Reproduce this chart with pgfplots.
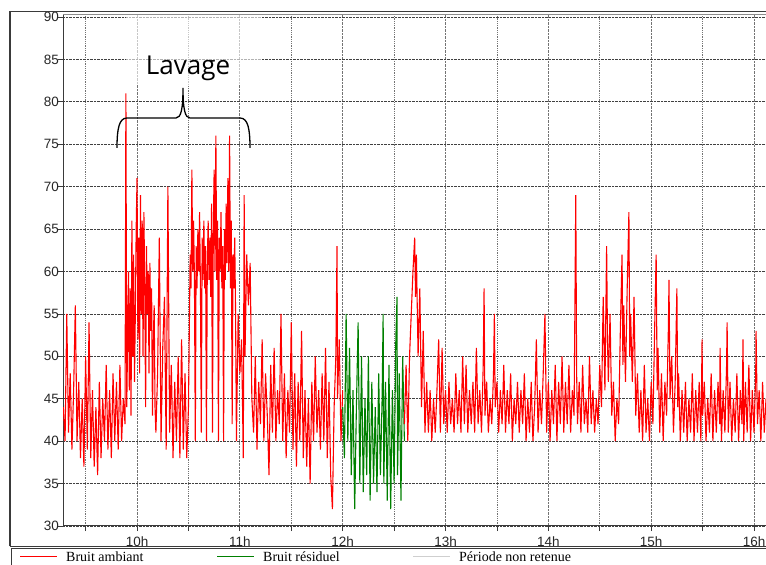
\documentclass[border=0pt]{standalone}
\usepackage{fontspec}
\setmainfont{Liberation Sans}
\newfontfamily\timesf{Liberation Serif}
\newfontfamily\lavf{Open Sans}
\usepackage{pgfplots}
\pgfplotsset{compat=1.18}
\definecolor{frame}{HTML}{3A3A3A}
\definecolor{ambiant}{HTML}{FF0000}
\definecolor{residuel}{HTML}{008000}
\definecolor{nonret}{HTML}{CFCFCF}
\begin{document}
\begin{tikzpicture}
\useasboundingbox (0,0) rectangle (766pt,565pt);
\begin{axis}[
  at={(63pt,39pt)}, anchor=south west, scale only axis,
  width=709pt, height=512pt,
  xmin=16.8, xmax=430.5, ymin=30, ymax=90.35,
  axis x line*=bottom, axis y line*=left,
  axis line style={frame, line width=1pt},
  xtick={60,120,180,240,300,360,420},
  xticklabels={10h,11h,12h,13h,14h,15h,16h},
  minor xtick={30,90,150,210,270,330,390},
  ytick={30,35,...,90},
  grid=both,
  x grid style={black!55, densely dotted, line width=0.8pt},
  y grid style={black!75, densely dotted, line width=0.8pt},
  minor grid style={black!55, densely dotted, line width=0.8pt},
  tick align=outside,
  major tick length=5pt, minor tick length=5pt,
  tick style={frame, line width=0.8pt},
  /pgf/number format/assume math mode=true,
  ticklabel style={font=\fontsize{13.5}{14}\selectfont, text=black!85},
  yticklabel style={anchor=east, inner sep=0pt, xshift=1pt},
  xticklabel style={anchor=north, inner sep=0pt, yshift=-6pt},
  clip=true,
]
% Bruit ambiant, avant 12h
\addplot[ambiant, line width=1.1pt, forget plot] coordinates {
(17,44)(18,40)(19,55)(20,41)(21,48)(22,39)(23,46)(24,56)(25,40)(26,47)
(27,38)(28,45)(29,37)(30,50)(31,39)(32,54)(33,38)(34,46)(35,37)(36,44)
(37,36)(38,47)(39,38)(40,45)(41,40)(42,49)(43,39)(44,46)(45,38)(46,48)
(47,40)(48,47)(49,39)(50,49)(51,40)(52,45)(53,42)(53.5,81)(54,44)(54.5,52)
(55,60)(55.5,46)(56,58)(56.5,43)(57,66)(57.5,50)(58,62)(58.5,47)(59,55)(59.5,65)
(60,71)(60.5,52)(61,64)(61.5,48)(62,69)(62.5,55)(63,66)(63.5,50)(64,67)(64.5,58)
(65,44)(65.5,63)(66,55)(66.5,60)(67,48)(67.5,61)(68,53)(68.5,58)(69,43)(69.5,52)
(70,56)(70.5,44)(71,41)(72,48)(73,64)(74,40)(75,51)(76,57)(77,39)(78,70)
(79,41)(80,49)(81,38)(82,47)(83,40)(84,50)(85,38)(86,52)(87,39)(88,48)
(89,38)(90,44)(91,62)(91.5,58)(92,72)(92.5,60)(93,66)(93.5,59)(94,40)(94.5,63)
(95,58)(95.5,65)(96,60)(96.5,67)(97,58)(97.5,41)(98,64)(98.5,59)(99,66)(99.5,58)
(100,63)(100.5,40)(101,61)(101.5,66)(102,59)(102.5,64)(103,57)(103.5,68)(104,41)(104.5,65)
(105,72)(105.5,60)(106,76)(106.5,59)(107,66)(107.5,40)(108,64)(108.5,60)(109,67)(109.5,58)
(110,63)(110.5,40)(111,65)(111.5,59)(112,68)(112.5,61)(113,71)(113.5,60)(114,76)(114.5,58)
(115,66)(115.5,42)(116,62)(116.5,58)(117,64)(117.5,55)(118,40)(119,55)(120,48)(121,52)
(122,38)(122.5,69)(123,50)(124,62)(125,56)(126,61)(127,45)(128,41)(129,50)(130,39)
(131,47)(132,42)(133,52)(134,40)(135,48)(136,43)(137,36)(138,49)(139,41)(140,51)
(141,40)(142,46)(143,42)(144,55)(145,40)(146,48)(147,38)(148,46)(149,41)(150,54)
(151,39)(152,48)(153,37)(154,47)(155,40)(156,53)(157,38)(158,46)(159,37)(160,45)
(161,35)(162,47)(163,40)(164,50)(165,41)(166,46)(167,39)(168,48)(169,40)(170,51)
(171,38)(172,47)(173,36)(174,32)(175,44)(176,50)(176.7,63)(177,45)(178,52)(179,40)
(180,46)
};
% Bruit residuel
\addplot[residuel, line width=1.1pt, forget plot] coordinates {
(180,44)(181,38)(182,55)(183,40)(184,51)(185,36)(186,46)(187,32)(188,44)(189,54)
(190,35)(191,50)(192,34)(193,45)(194,36)(195,50)(196,33)(197,47)(198,35)(199,44)
(200,34)(201,48)(202,36)(203,45)(203.6,55)(204,35)(205,47)(206,33)(207,49)(208,32)
(209,46)(210,35)(211,52)(211.7,57)(212,36)(213,48)(214,33)(215,50)(216,40)
};
% Bruit ambiant, apres 12h36
\addplot[ambiant, line width=1.1pt, forget plot] coordinates {
(216,42)(217,49)(218,40)(219,50)(220,55)(221,60)(222,64)(222.5,57)(223,62)(224,50)
(225,58)(226,44)(227,53)(228,41)(229,47)(230,41)(231,46)(232,40)(233,45)(234,41)
(235,46)(236,52)(237,41)(238,51)(239,42)(240,46)(241,41)(242,47)(243,42)(244,45)
(245,41)(246,48)(247,42)(248,46)(249,41)(250,50)(251,42)(252,49)(253,41)(254,46)
(255,42)(256,47)(257,41)(258,51)(259,42)(260,46)(261,41)(262,49)(262.5,58)(263,43)
(264,47)(265,41)(266,45)(267,42)(268,48)(268.5,55)(269,44)(270,47)(271,41)(272,46)
(273,42)(274,49)(275,41)(276,46)(277,42)(278,48)(279,40)(280,45)(281,42)(282,47)
(283,41)(284,46)(285,42)(286,48)(287,40)(288,45)(289,41)(290,47)(291,40)(292,44)
(293,52)(294,41)(295,46)(296,42)(297,48)(298,55)(299,41)(300,47)(301,40)(302,46)
(303,42)(304,49)(305,40)(306,47)(307,42)(308,50)(309,41)(310,47)(311,42)(312,49)
(313,41)(314,46)(315,43)(316,69)(316.5,48)(317,42)(318,47)(319,41)(320,49)(321,42)
(322,45)(323,41)(324,50)(325,42)(326,46)(327,41)(328,45)(329,42)(330,49)(331,44)
(332,57)(333,46)(334,63)(334.5,52)(335,47)(336,55)(337,43)(338,47)(339,40)(340,45)
(341,42)(342,53)(343,62)(343.5,49)(344,56)(345,47)(346,58)(347,67)(347.5,50)(348,55)
(349,47)(350,57)(351,43)(352,48)(353,41)(354,46)(355,40)(356,49)(357,41)(358,45)
(359,40)(360,47)(361,42)(362,53)(362.9,62)(363.5,46)(364,51)(365,41)(366,48)(367,40)
(368,47)(369,43)(370,53)(370.4,59)(371,45)(372,50)(373,41)(374,47)(375,58)(375.5,44)
(376,48)(377,40)(378,46)(379,41)(380,47)(381,40)(382,45)(383,41)(384,48)(385,40)
(386,46)(387,41)(388,47)(389,40)(389.7,52)(390,43)(391,47)(392,40)(393,45)(394,41)
(395,48)(396,40)(397,46)(398,41)(399,47)(400,42)(400.2,51)(401,40)(402,46)(403,41)
(404,49)(404.3,54)(405,41)(406,47)(407,40)(408,45)(409,41)(410,48)(411,40)(412,46)
(413,42)(413.6,52)(414,40)(415,47)(416,41)(417,49)(418,40)(419,46)(420,41)(421,48)
(421.2,53)(422,42)(423,46)(424,40)(425,47)(426,41)(427,45)(428,42)(429,46)(430,41)
};
\end{axis}
% top border of the plot area
\draw[black!45, line width=0.8pt] (63pt,551pt) -- (800pt,551pt);
% outer frame and legend box
\draw[frame, line width=1.2pt] (10pt,18.5pt) -- (10pt,553.3pt) -- (800pt,553.3pt);
\draw[frame, line width=1.2pt] (10pt,18.5pt) -- (800pt,18.5pt);
\draw[frame, line width=1.2pt] (11.5pt,-5pt) -- (11.5pt,16.5pt) -- (800pt,16.5pt);
% faded area behind the annotation
\fill[white, opacity=0.6] (126pt,480pt) rectangle (262pt,549.5pt);
% brace and label
\draw[black, line width=1.3pt]
  (117pt,417pt) .. controls (117pt,436pt) and (119pt,447pt) .. (127pt,447pt)
  -- (176pt,447pt) .. controls (181pt,447pt) and (183pt,456pt) .. (183pt,477pt)
  .. controls (183pt,456pt) and (185pt,447pt) .. (190pt,447pt)
  -- (240pt,447pt) .. controls (248pt,447pt) and (250pt,436pt) .. (250pt,417pt);
\node[anchor=base, inner sep=0pt, font=\lavf\fontsize{26}{27}\selectfont] at (188pt,490pt) {Lavage};
% legend
\draw[ambiant, line width=1pt] (20pt,8pt) -- (57pt,8pt);
\node[anchor=base west, inner sep=0pt, font=\timesf\fontsize{14}{15}\selectfont] at (66pt,3pt) {Bruit ambiant};
\draw[residuel, line width=1pt] (217pt,8pt) -- (254pt,8pt);
\node[anchor=base west, inner sep=0pt, font=\timesf\fontsize{14}{15}\selectfont] at (263pt,3pt) {Bruit résiduel};
\draw[nonret, line width=1pt] (413pt,8pt) -- (450pt,8pt);
\node[anchor=base west, inner sep=0pt, font=\timesf\fontsize{14}{15}\selectfont] at (459pt,3pt) {Période non retenue};
\end{tikzpicture}
\end{document}
